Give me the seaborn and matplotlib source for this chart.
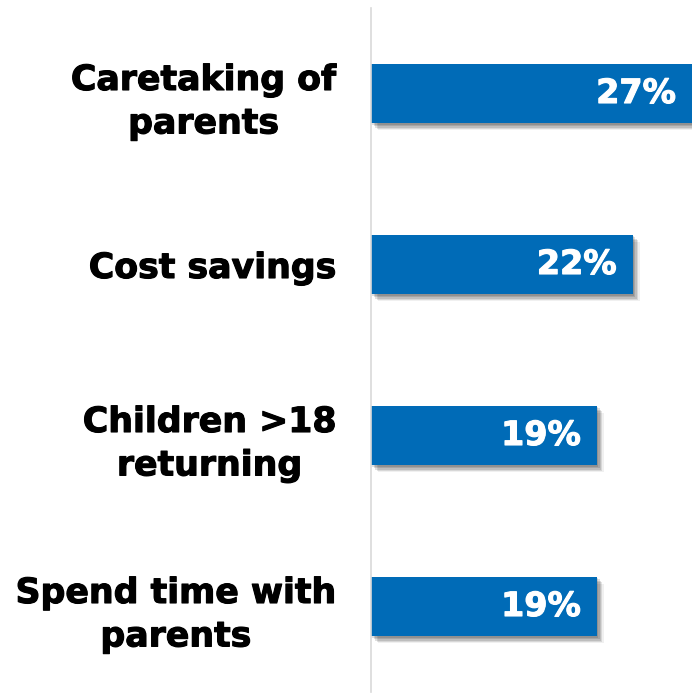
import matplotlib
matplotlib.use("Agg")
import matplotlib.pyplot as plt
import matplotlib.patheffects as pe
import seaborn as sns
import pandas as pd

categories = ["Caretaking of\nparents", "Cost savings", "Children >18\nreturning", "Spend time with\nparents"]
values = [27, 22, 19, 19]
value_labels = ["27%", "22%", "19%", "19%"]

df = pd.DataFrame({"category": categories, "value": values})

sns.set_theme(style="white")
plt.rcParams['font.family'] = ['DejaVu Sans']

fig = plt.figure(figsize=(6.92, 6.93), dpi=100)
ax = fig.add_axes([371/692, 1 - 692/693, 1 - 371/692, (692 - 8)/693])

sns.barplot(data=df, x="value", y="category", color="#006BB7", width=0.35,
            saturation=1, ax=ax, orient="h")

shadow = [pe.SimplePatchShadow(offset=(dx, -dy), shadow_rgbFace="#000000", alpha=a)
          for dx, dy, a in [(1, 1, 0.12), (2, 2, 0.12), (3, 3, 0.12), (4, 4, 0.10), (5, 5, 0.06)]]
for p in ax.patches:
    p.set_path_effects(shadow + [pe.Normal()])
    p.set_linewidth(0)

for p, lab in zip(ax.patches, value_labels):
    ax.text(p.get_x() + p.get_width() - 1.35, p.get_y() + p.get_height() / 2, lab,
            ha="right", va="center", color="white", fontsize=24, fontweight="bold",
            path_effects=[pe.withStroke(linewidth=0.8, foreground="white")])

ax.set_xlim(0, 27)
ax.set_ylim(3.5, -0.5)
ax.set_xlabel("")
ax.set_ylabel("")
ax.set_xticks([])
for s in ["top", "right", "bottom"]:
    ax.spines[s].set_visible(False)
ax.spines["left"].set_color("#D9D9D9")
ax.spines["left"].set_linewidth(1.2)
ax.tick_params(axis="y", length=0, pad=25)
for t in ax.get_yticklabels():
    t.set_fontsize(25)
    t.set_fontweight("bold")
    t.set_color("black")
    t.set_multialignment("center")
    t.set_linespacing(1.35)
    t.set_path_effects([pe.withStroke(linewidth=0.8, foreground="black")])

fig.savefig("out.png", dpi=100, facecolor="white")
